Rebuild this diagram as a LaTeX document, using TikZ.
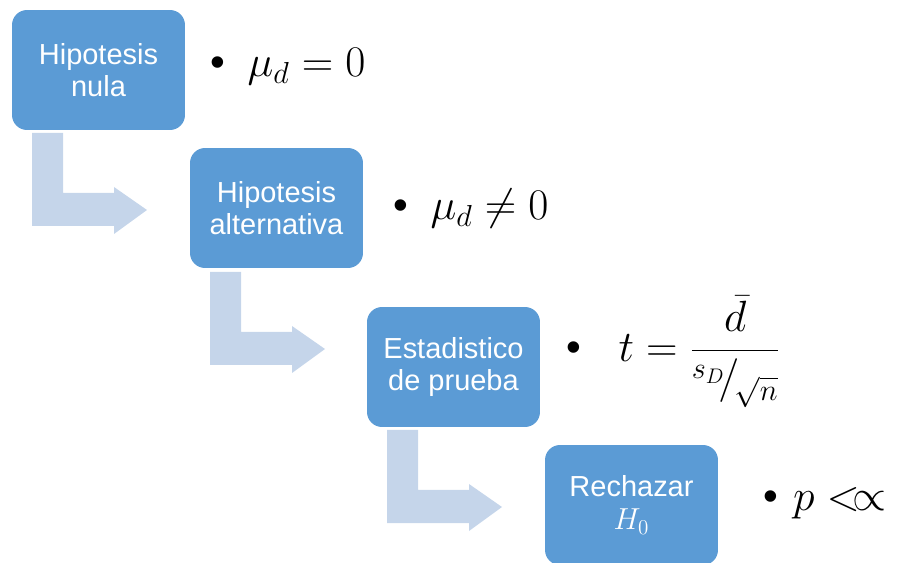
\documentclass[tikz,border=0pt]{standalone}
\usepackage[no-math]{fontspec}
\setmainfont{Liberation Sans}
\usepackage{xcolor}
\usepackage{tikz}
\definecolor{StepBlue}{RGB}{91,155,213}
\definecolor{StepLight}{RGB}{197,213,234}

\tikzset{
  stepbox/.style={rectangle, rounded corners=0.3cm, fill=StepBlue, text=white,
    minimum width=3.46cm, minimum height=2.4cm, align=center,
    font=\fontsize{16.5}{18.5}\selectfont},
  formula/.style={anchor=west, inner sep=0pt, font=\fontsize{24}{28}\selectfont},
  bentarrow/.style={fill=StepLight}
}

\begin{document}
\begin{tikzpicture}[x=0.02cm, y=-0.02cm]
    \useasboundingbox (0,0) rectangle (899,563);
    \clip (0,0) rectangle (899,563);

    % bent arrows between the steps
    \foreach \dx/\dy in {0/0, 178/139, 355/297} {
      \fill[bentarrow, shift={(\dx,\dy)}] (32,133) -- (63,133) -- (63,193) -- (114,193) -- (114,187)
        -- (147,210) -- (114,234) -- (114,226) -- (32,226) -- cycle;
    }

    \node (Nula) [stepbox] at (98.5,70) {Hipotesis\\nula};
    \node (Alternativa) [stepbox] at (276.5,208) {Hipotesis\\alternativa};
    \node (Estadistico) [stepbox] at (453.5,367) {Estadistico\\de prueba};
    \node (Rechazar) [stepbox] at (631.5,505) {Rechazar\\$H_0$};

    \node (NulaTxt) [formula] at (210,67) {\textbullet\hspace{0.45cm}$\mu_d = 0$};
    \node (AltTxt) [formula] at (393,209) {\textbullet\hspace{0.45cm}$\mu_d \neq 0$};
    \node (EstTxt) [formula] at (566,352) {\textbullet\hspace{0.75cm}$\displaystyle t = \frac{\bar{d}}{{}^{s_D}\!/_{\!\sqrt{n}}}$};
    \node (RechTxt) [formula] at (763,503) {\textbullet\hspace{0.3cm}$p <\!\propto$};
\end{tikzpicture}
\end{document}
